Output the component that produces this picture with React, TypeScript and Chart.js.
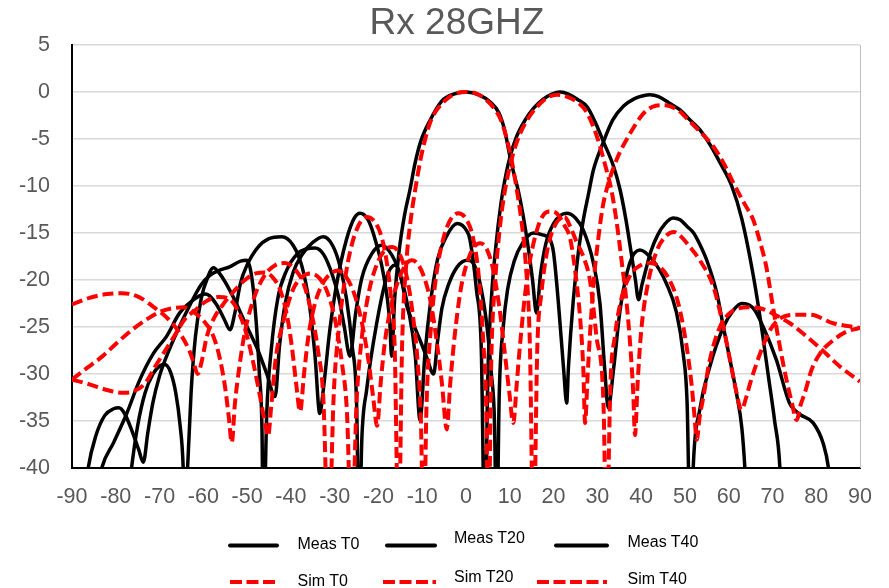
import React, { useEffect, useRef } from "react";
import { Chart, registerables } from "chart.js";

Chart.register(...registerables);

const chartTitle = "Rx 28GHZ";
const xMin = -90;
const xMax = 90;
const xStep = 10;
const yMin = -40;
const yMax = 5;
const yStep = 5;

// [angle (deg), level (dB)]; values below -40 are nulls clipped by the axis
const measT0 = [
  [-86, -47], [-83.2, -40], [-80.5, -37.3], [-77.5, -34.2], [-74.5, -30.6], [-71.4, -27.8], [-68.4, -26.0],
  [-65.4, -23.5], [-61.6, -21.9], [-59.5, -21.5], [-57, -22.6], [-55.2, -24.2], [-53.9, -25.3], [-52.8, -23.5],
  [-51.5, -20.3], [-50.1, -18.5], [-47.5, -16.5], [-45, -15.6], [-42.1, -15.4], [-39.5, -16.3], [-37.5, -18.5],
  [-35.8, -22.5], [-34.5, -28], [-33.4, -34.2], [-32.6, -31.7], [-31.1, -25.3], [-29.5, -20.3], [-27.3, -15.7],
  [-25.5, -13.4], [-24.2, -12.9], [-22.5, -13.5], [-21.2, -15.0], [-18.9, -19.3], [-17.4, -24.6], [-17.0, -28.1],
  [-16.3, -22], [-15.3, -17], [-14, -13], [-12.8, -10.4], [-11.6, -7.5], [-10.3, -5.2], [-8.2, -3.0],
  [-5.6, -1.0], [-3, -0.25], [0, 0], [3, -0.3], [5.6, -1.1], [7.5, -2.2], [8.8, -4.0], [10.05, -6.9],
  [11, -8.8], [11.9, -10.4], [13, -13], [14.2, -16.5], [15.2, -20], [16.1, -23.5], [17, -19.5], [18.2, -16.2],
  [20, -14.0], [23, -12.9], [25, -13.4], [26.8, -14.7], [29.1, -18.2], [30.6, -22.5], [31.7, -29.6],
  [32.5, -33.6], [33.7, -29.5], [35.2, -23.2], [37.4, -18.2], [39.7, -16.8], [42.7, -17.9], [45.8, -20.4],
  [48.1, -23.5], [49.6, -27.8], [50.5, -33], [51.35, -50], [51.9, -40], [53.4, -33.8], [55.7, -29.2],
  [58.8, -25.0], [61.1, -23.2], [63, -22.5], [65.6, -23.0], [67.9, -25.0], [70.9, -28.5], [73.9, -33.1],
  [76.3, -34.3], [79.3, -35.2], [81.6, -37.4], [82.8, -40], [84, -46],
];

const measT20 = [
  [-88, -47], [-86.3, -40], [-84.5, -36.5], [-82.5, -34.4], [-80.5, -33.7], [-79.3, -33.6], [-78, -34.2],
  [-76.5, -35.8], [-74.8, -38], [-73.7, -39.4], [-72.7, -36.3], [-71.5, -33], [-70, -30.2], [-68.3, -28],
  [-66, -25.5], [-63, -22.6], [-60.5, -20.5], [-58.5, -19.5], [-56.5, -19.0], [-54, -18.6], [-51.5, -18],
  [-50.1, -17.9], [-49, -19.5], [-48, -24], [-47.2, -30], [-46.6, -36], [-46.3, -48], [-45.5, -34],
  [-44.5, -27.5], [-43, -22], [-41, -19], [-38.5, -17.2], [-36.5, -16.7], [-34.5, -16.6], [-32.5, -17.3],
  [-30.5, -19.5], [-29, -22], [-27.8, -25], [-26.5, -28.1], [-25.2, -23.5], [-23.8, -19.8], [-21.5, -17.2],
  [-19.3, -16.3], [-17, -17.3], [-15, -19.5], [-13.2, -23], [-11.6, -28], [-10.5, -34.9], [-9.4, -28],
  [-8, -22], [-6.5, -17.8], [-4.4, -15.3], [-2, -14.0], [0.2, -14.8], [0.9, -15.7], [2.4, -21.1],
  [3.5, -27.5], [4.3, -48], [5.0, -30], [5.8, -22], [6.8, -16.5], [8, -11.8], [9.2, -8.6], [10.05, -6.9],
  [11.5, -4.8], [13.5, -3.0], [15.5, -1.7], [17.5, -0.8], [19.5, -0.25], [21.5, 0], [23.5, -0.25],
  [25.5, -0.8], [27.7, -1.6], [29.5, -3.2], [31.4, -5.3], [33.7, -7.9], [35.2, -10.4], [36.5, -13.5],
  [37.7, -17], [38.7, -20], [39.4, -22.1], [40.2, -20.5], [41.2, -18.7], [42.2, -17.0], [43.8, -15.2],
  [45.5, -14.0], [47.3, -13.4], [48.9, -13.6], [50.5, -14.3], [52, -15.0], [53.4, -16.2], [55, -17.9],
  [57.3, -21.4], [58.8, -25], [60.3, -28.5], [61.8, -32.1], [63, -35.7], [63.7, -40], [64.5, -48],
];

const measT40 = [
  [-78, -47], [-76.4, -40], [-75, -35.5], [-73.3, -32], [-71.5, -30], [-69.8, -29.1], [-68.8, -29.0],
  [-67.5, -29.8], [-66.3, -32], [-65.3, -35.5], [-64.6, -40], [-64.2, -48], [-63.6, -40], [-62.8, -32],
  [-61.8, -26], [-60.5, -22], [-59, -19.7], [-57.7, -18.7], [-56.3, -19.3], [-53.5, -21.5], [-50.5, -24.5],
  [-47.5, -27.5], [-45.5, -30], [-43.6, -32.4], [-42.6, -27], [-41.3, -22.5], [-39.5, -19.2], [-37.3, -17.2],
  [-35, -16.0], [-32.6, -15.4], [-30.5, -16.3], [-28.8, -18.5], [-27.3, -22], [-26, -27], [-25, -33],
  [-24.4, -48], [-23.8, -37], [-22.7, -31.7], [-20.4, -24.6], [-18.1, -19.7], [-16.2, -18.4], [-15, -19.5],
  [-13.5, -22.8], [-12, -24.7], [-10.5, -26.4], [-9, -28.2], [-7.4, -30], [-6.5, -26.5], [-5.5, -23],
  [-4, -20.5], [-2, -18.6], [0.3, -17.9], [2, -18.5], [3.5, -21], [4.8, -25], [5.8, -30], [6.5, -35],
  [7.0, -48], [7.6, -32], [8.5, -25], [9.5, -21], [11, -18], [13, -16], [15.4, -15.0], [17.5, -15.2],
  [19.2, -15.7], [20, -17.1], [21.1, -22.4], [22.3, -29.5], [23.0, -33.1], [23.4, -29.3], [24.5, -22.2],
  [25.7, -16.9], [26.8, -13.6], [28, -10.8], [29.1, -8.3], [31.4, -5.3], [33.5, -3.0], [36, -1.5],
  [38.5, -0.7], [40.5, -0.4], [42, -0.3], [44, -0.5], [46.5, -1.2], [48.9, -1.9], [51, -2.9], [53.4, -4.0],
  [56, -5.8], [58, -7.5], [60.7, -10], [63, -13.5], [65.8, -20], [67.5, -25], [69, -30], [70.5, -35],
  [71.7, -40], [72.3, -48],
];

const simT0 = [
  [-90, -30.6], [-87, -29.5], [-83, -28.1], [-80, -26.8], [-76.3, -25.3], [-73, -24.2], [-70, -23.4],
  [-67, -23.0], [-64.5, -22.9], [-62.3, -23.4], [-60, -24.3], [-57.7, -26.0], [-56.2, -28.4], [-55, -31.5],
  [-54.2, -34.5], [-53.5, -37.3], [-52.8, -33.2], [-51.7, -29], [-50.5, -25.5], [-48.5, -22.0], [-46, -19.5],
  [-43.5, -18.4], [-41.4, -18.2], [-39, -18.9], [-37, -20.5], [-35.3, -23.5], [-33.8, -27.5], [-32.6, -32.5],
  [-31.4, -48], [-30.2, -32], [-29, -25], [-27.5, -19.5], [-25.5, -15.3], [-22.7, -13.3], [-20, -14.5],
  [-18.5, -17], [-17.2, -21.5], [-16.3, -27], [-15.4, -48], [-14.6, -27], [-13.6, -18], [-12.6, -13.5],
  [-11.6, -10.4], [-10.4, -7.2], [-9.2, -4.8], [-8, -3.0], [-6.5, -1.8], [-4.5, -0.8], [-2.5, -0.2], [0, 0],
  [2.5, -0.2], [4.5, -0.8], [6.5, -1.8], [8, -3.0], [9.2, -4.8], [10.4, -7.2], [11.6, -10.4], [12.6, -13.5],
  [13.6, -18], [14.6, -27], [15.4, -48], [16.3, -27], [17.2, -21.5], [18.5, -17], [20, -14.5], [22.5, -13.3],
  [23.8, -14.3], [25.3, -16], [26.8, -17.5], [28.3, -20.0], [29.8, -26.0], [31.4, -33.1], [32.1, -48],
  [33, -31], [34, -26], [35.5, -22], [37.5, -19.5], [40, -18.4], [42, -18.2], [44.5, -18.7], [46.5, -20],
  [48.5, -22.5], [50.2, -26.5], [51.5, -31], [52.2, -34.5], [52.7, -37], [53.4, -34.5], [54.2, -32.5],
  [55.7, -28.5], [58, -25], [60.3, -23.5], [62.5, -23.0], [64.5, -22.9], [67.2, -23.0], [71, -23.8],
  [74, -24.6], [77, -25.7], [81, -27.3], [85.4, -29.2], [90, -30.8],
];

const simT20 = [
  [-90, -30.6], [-86, -31.1], [-82, -31.7], [-78.5, -32.0], [-76.3, -31.9], [-73.3, -31.0], [-71, -29.2],
  [-67.2, -26.4], [-64.1, -24.1], [-61.8, -23.2], [-59.5, -22.3], [-56.5, -21.8], [-53.8, -22.1],
  [-51.6, -23.8], [-50, -26], [-48.5, -29], [-47, -32.5], [-45.8, -35.5], [-45.2, -36.6], [-44.5, -33.5],
  [-43.5, -28.5], [-41.5, -24], [-39.5, -21], [-37.5, -19.7], [-35.6, -19.3], [-33.5, -19.8], [-31.5, -21.5],
  [-29.8, -24.5], [-28.3, -29], [-27.2, -34], [-26.1, -48], [-25, -33], [-24, -27], [-22.5, -22],
  [-20.5, -18.5], [-18.5, -16.8], [-16.9, -16.5], [-15.2, -17.2], [-13.6, -19.5], [-12.2, -23.5], [-11, -29],
  [-10.3, -35], [-9.7, -48], [-9, -33], [-8, -25], [-6.8, -19.5], [-5, -15.3], [-3.3, -13.4], [-1.75, -12.9],
  [0, -13.5], [1.6, -15.5], [3, -20], [4, -27], [4.6, -33], [5.1, -48], [5.8, -28], [6.6, -20.5],
  [7.6, -15], [8.7, -11], [10.4, -7.2], [12.2, -4.6], [14.5, -2.6], [17, -1.2], [19, -0.5], [20.8, -0.3],
  [23, -0.5], [25.5, -1.1], [27.5, -2.1], [29.1, -3.7], [30.5, -5.6], [31.8, -7.8], [33.2, -10.4],
  [34.4, -13.8], [35.5, -17.8], [36.7, -22.5], [37.6, -27.5], [38.2, -32], [38.6, -36.5], [39.2, -31],
  [40, -25.5], [41.5, -20.5], [43.5, -17], [45.5, -15.4], [47.5, -14.9], [48.9, -15.3], [51, -16.4],
  [53.4, -17.9], [56.5, -20.7], [58.8, -25.0], [60.3, -28.5], [61.8, -32.0], [62.9, -33.8], [64, -32.5],
  [64.9, -31.0], [67.2, -27.8], [69.5, -25.3], [71.7, -24.1], [74.8, -23.7], [78.6, -23.7], [83.9, -24.6],
  [90, -25.1],
];

const simT40 = [
  [-90, -22.6], [-86, -21.9], [-82, -21.5], [-78.6, -21.4], [-74.8, -21.8], [-71, -23.0], [-67.9, -24.2],
  [-65.6, -25.5], [-63.3, -27.4], [-62.2, -28.8], [-61.3, -30], [-60.3, -28.5], [-59.2, -26.0], [-57.5, -24],
  [-55.5, -22.6], [-53, -21.2], [-50.5, -20], [-48, -19.3], [-46, -19.2], [-44.2, -19.7], [-42.5, -21],
  [-41, -23.5], [-39.8, -27], [-38.8, -31], [-37.9, -34.0], [-37, -30], [-36, -26], [-34.5, -22.5],
  [-32.5, -20.2], [-30.5, -19.2], [-29.3, -19.0], [-27.5, -19.6], [-25.5, -21.5], [-23.8, -24.5],
  [-22.3, -28.5], [-21.2, -32.5], [-20.3, -35.5], [-19.5, -31], [-18.5, -26.5], [-17, -22.5], [-15, -19.5],
  [-13.5, -18.2], [-12.4, -17.9], [-11, -18.3], [-9.5, -19.8], [-8, -22.5], [-6.7, -26.5], [-5.5, -31],
  [-4.4, -35.9], [-3.6, -31], [-2.6, -26], [-1.2, -21], [0.5, -17.8], [2, -16.4], [3.2, -16.1], [4.5, -16.5],
  [6, -18.5], [7.5, -22.5], [8.8, -27.5], [9.9, -32], [10.8, -35.2], [11.6, -31], [12.3, -27.1], [13.9, -20],
  [16.2, -14.7], [17.8, -13.0], [19.2, -12.7], [20.7, -12.9], [22.5, -14.2], [23.8, -15.6], [24.9, -18.9],
  [26.1, -24.2], [26.8, -29.5], [27.2, -35.2], [27.8, -30], [28.5, -24.5], [29.3, -19.5], [30.3, -15.3],
  [31.2, -12.3], [32.1, -10.4], [34.4, -7.2], [37.5, -4.4], [40.5, -2.3], [42.5, -1.6], [44.5, -1.4],
  [46.5, -1.5], [48.9, -2.1], [50, -2.6], [53, -4.0], [56.5, -5.8], [59, -7.7], [61.1, -9.7], [63.5, -11.8],
  [65.6, -13.6], [67.2, -16], [68.6, -18.6], [70.1, -22.8], [71.7, -27.1], [73.2, -30.6], [74.5, -33.2],
  [75.5, -34.9], [76.5, -33.2], [77.4, -32.0], [78.9, -29.6], [80.9, -27.8], [83.9, -26.4], [86.9, -25.5],
  [90, -25.1],
];

const seriesList = [
  { name: "Meas T0", points: measT0, sim: false },
  { name: "Meas T20", points: measT20, sim: false },
  { name: "Meas T40", points: measT40, sim: false },
  { name: "Sim T0", points: simT0, sim: true },
  { name: "Sim T20", points: simT20, sim: true },
  { name: "Sim T40", points: simT40, sim: true },
];

// legend layout (pixels)
const legendLayout = [
  { name: "Meas T0", x1: 230, x2: 277, ly: 545.5, tx: 297.5, ty: 548.5, sim: false },
  { name: "Meas T20", x1: 387, x2: 435, ly: 545.5, tx: 454, ty: 542.8, sim: false },
  { name: "Meas T40", x1: 556, x2: 607, ly: 545.5, tx: 627.5, ty: 546.5, sim: false },
  { name: "Sim T0", x1: 230, x2: 275, ly: 582, tx: 297.5, ty: 585.8, sim: true },
  { name: "Sim T20", x1: 383, x2: 436, ly: 582, tx: 454, ty: 581.8, sim: true },
  { name: "Sim T40", x1: 537, x2: 607, ly: 582, tx: 627.5, ty: 584.1, sim: true },
];

const FONT = "'Liberation Sans', Arial, Helvetica, sans-serif";

const plotFrame = {
  id: "plotFrame",
  afterDraw(chart: any) {
    const { ctx, chartArea } = chart;
    ctx.save();
    ctx.strokeStyle = "#bfbfbf";
    ctx.lineWidth = 1;
    ctx.beginPath();
    ctx.moveTo(chartArea.right + 0.5, chartArea.top);
    ctx.lineTo(chartArea.right + 0.5, chartArea.bottom);
    ctx.stroke();
    ctx.restore();
  },
};

export default function App() {
  const canvasRef = useRef<HTMLCanvasElement | null>(null);

  useEffect(() => {
    document.body.style.margin = "0";
    const canvas = canvasRef.current;
    if (!canvas) return;
    const datasets = seriesList.map((s) => ({
      label: s.name,
      data: s.points.map(([x, y]) => ({ x, y })),
      borderColor: s.sim ? "#ff0000" : "#000000",
      backgroundColor: s.sim ? "#ff0000" : "#000000",
      borderWidth: s.sim ? 4 : 3.5,
      borderDash: s.sim ? [11, 5] : [],
      borderCapStyle: "butt",
      pointRadius: 0,
      fill: false,
      cubicInterpolationMode: "monotone",
      order: s.sim ? 0 : 1,
      clip: 0,
    }));
    const chart = new Chart(canvas, {
      type: "line",
      data: { datasets } as any,
      options: {
        responsive: false,
        animation: false,
        devicePixelRatio: 1,
        events: [],
        layout: { padding: { left: 0, right: 29, top: 45, bottom: 80 } },
        plugins: {
          legend: { display: false },
          tooltip: { enabled: false },
          title: { display: false },
        },
        scales: {
          x: {
            type: "linear",
            min: xMin,
            max: xMax,
            grid: { display: false, drawTicks: false },
            border: { display: true, color: "#000000", width: 2 },
            ticks: {
              stepSize: xStep,
              padding: 16,
              color: "#595959",
              font: { family: FONT, size: 21.5 },
              maxRotation: 0,
              autoSkip: false,
            },
            afterFit: (scale: any) => {
              scale.height = 40;
            },
          },
          y: {
            type: "linear",
            min: yMin,
            max: yMax,
            grid: { color: "#d9d9d9", lineWidth: 1.5, drawTicks: false },
            border: { display: true, color: "#000000", width: 2 },
            ticks: {
              stepSize: yStep,
              padding: 22,
              color: "#595959",
              font: { family: FONT, size: 21.5 },
            },
            afterFit: (scale: any) => {
              scale.width = 72;
            },
          },
        },
      } as any,
      plugins: [plotFrame],
    });
    return () => chart.destroy();
  }, []);

  return (
    <div style={{ position: "relative", width: 889, height: 588, background: "#ffffff" }}>
      <canvas ref={canvasRef} width={889} height={588} style={{ display: "block", width: 889, height: 588 }} />
      <svg
        width={889}
        height={588}
        style={{ position: "absolute", left: 0, top: 0, pointerEvents: "none" }}
      >
        <text x={457} y={34} textAnchor="middle" fontFamily={FONT} fontSize={37} fill="#595959">
          {chartTitle}
        </text>
        {legendLayout.map((l) => (
          <g key={l.name}>
            <line
              x1={l.x1}
              x2={l.x2}
              y1={l.ly}
              y2={l.ly}
              stroke={l.sim ? "#ff0000" : "#000000"}
              strokeWidth={4}
              strokeDasharray={l.sim ? "12 4.5" : undefined}
              strokeLinecap={l.sim ? "butt" : "round"}
            />
            <text x={l.tx} y={l.ty} fontFamily={FONT} fontSize={16} fill="#000000">
              {l.name}
            </text>
          </g>
        ))}
      </svg>
    </div>
  );
}
